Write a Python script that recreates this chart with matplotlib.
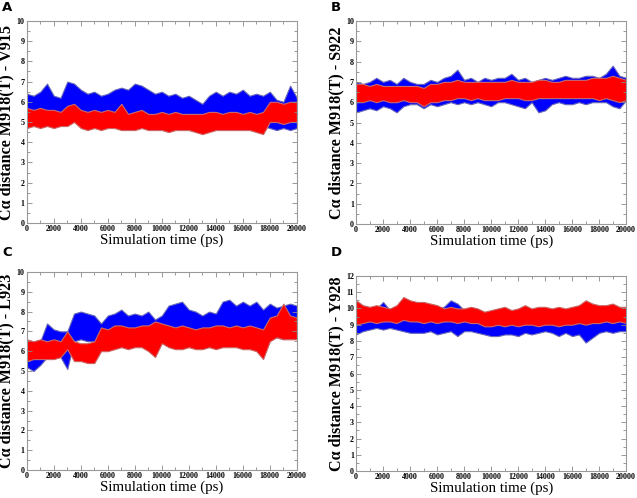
import numpy as np
import matplotlib
matplotlib.use("Agg")
import matplotlib.pyplot as plt
from matplotlib.ticker import MultipleLocator

# time axis, one envelope value every 500 ps
time_ps = list(range(0, 20001, 500))

# panel A: M918(T) - V915
a_blue_low = [5.0, 5.1, 5.0, 5.1, 5.0, 5.1, 5.0, 5.2, 5.1, 5.0, 5.1, 5.0, 5.1, 5.0, 5.1, 5.0, 5.1, 5.0,
              5.0, 5.1, 5.0, 5.0, 5.1, 5.0, 4.9, 4.8, 4.5, 4.8, 5.0, 4.9, 5.0, 5.0, 5.0, 4.9, 5.0, 4.8,
              4.7, 4.6, 4.7, 4.6, 4.7]
a_blue_high = [6.4, 6.3, 6.5, 6.9, 6.3, 6.2, 7.0, 6.9, 6.6, 6.4, 6.5, 6.3, 6.4, 6.6, 6.7, 6.6, 6.9, 6.8,
               6.6, 6.4, 6.5, 6.3, 6.4, 6.2, 6.3, 6.1, 5.9, 6.3, 6.5, 6.3, 6.5, 6.4, 6.6, 6.3, 6.4, 6.3,
               6.5, 6.1, 6.0, 6.8, 6.2]
a_red_low = [4.7, 4.8, 4.7, 4.8, 4.7, 4.8, 4.8, 5.0, 4.7, 4.6, 4.7, 4.6, 4.7, 4.7, 4.6, 4.6, 4.6, 4.7,
             4.6, 4.6, 4.6, 4.5, 4.6, 4.6, 4.6, 4.5, 4.4, 4.5, 4.6, 4.6, 4.6, 4.6, 4.6, 4.6, 4.5, 4.4,
             5.0, 5.0, 4.9, 5.0, 5.0]
a_red_high = [5.7, 5.6, 5.7, 5.6, 5.6, 5.5, 5.8, 5.9, 5.6, 5.5, 5.6, 5.5, 5.6, 5.5, 5.9, 5.4, 5.5, 5.6,
              5.4, 5.4, 5.5, 5.4, 5.5, 5.4, 5.4, 5.4, 5.4, 5.5, 5.5, 5.4, 5.5, 5.5, 5.4, 5.5, 5.4, 5.5,
              6.0, 6.0, 5.9, 6.0, 6.0]

# panel B: M918(T) - S922
b_blue_low = [5.5, 5.6, 5.7, 5.6, 5.8, 5.7, 5.5, 5.8, 5.9, 5.9, 5.7, 5.9, 5.8, 5.9, 6.0, 5.9, 6.0, 5.9,
              6.0, 5.9, 5.8, 6.0, 6.0, 5.9, 5.8, 5.7, 6.0, 5.5, 5.6, 5.9, 6.0, 5.9, 5.9, 6.0, 5.9, 6.0,
              6.0, 6.0, 5.8, 5.7, 6.1]
b_blue_high = [7.0, 6.9, 7.0, 7.2, 7.0, 7.1, 6.9, 7.2, 7.0, 6.9, 6.9, 7.1, 7.0, 7.2, 7.3, 7.6, 7.1, 7.2,
               7.0, 7.2, 7.1, 7.2, 7.2, 7.4, 7.1, 7.2, 7.0, 7.1, 7.2, 7.1, 7.2, 7.3, 7.2, 7.2, 7.3, 7.3,
               7.2, 7.4, 7.8, 7.3, 7.2]
b_red_low = [6.0, 6.0, 6.1, 6.0, 6.1, 6.0, 6.0, 6.1, 6.0, 6.0, 5.8, 6.0, 6.0, 6.1, 6.1, 6.2, 6.2, 6.1,
             6.2, 6.1, 6.1, 6.1, 6.2, 6.2, 6.2, 6.1, 6.1, 6.2, 6.2, 6.2, 6.2, 6.2, 6.2, 6.2, 6.2, 6.2,
             6.1, 6.2, 6.1, 6.0, 6.1]
b_red_high = [6.9, 6.9, 6.8, 6.9, 6.8, 6.8, 6.8, 6.8, 6.8, 6.8, 6.7, 6.9, 6.9, 7.0, 7.0, 7.1, 7.0, 7.0,
              7.0, 7.0, 7.0, 7.0, 7.0, 7.1, 7.0, 7.0, 7.0, 7.1, 7.1, 7.0, 7.0, 7.1, 7.1, 7.1, 7.1, 7.2,
              7.2, 7.2, 7.3, 7.2, 7.1]

# panel C: M918(T) - L923
c_blue_low = [5.2, 5.0, 5.3, 5.7, 5.8, 5.7, 5.1, 6.5, 6.6, 6.5, 6.5, 6.3, 6.4, 6.4, 6.5, 6.5, 6.5, 6.6,
              6.4, 6.5, 6.8, 7.0, 7.1, 7.0, 6.8, 6.7, 6.6, 6.6, 6.6, 6.8, 6.9, 6.8, 6.8, 6.7, 6.8, 6.6,
              6.7, 6.7, 6.6, 6.7, 6.7]
c_blue_high = [6.4, 6.3, 6.5, 7.4, 7.1, 7.0, 7.0, 7.9, 8.0, 7.9, 7.8, 7.4, 7.8, 7.9, 8.1, 7.8, 7.9, 7.8,
               8.0, 7.6, 7.8, 8.3, 8.4, 8.5, 8.1, 8.0, 7.8, 8.0, 7.9, 8.5, 8.6, 8.3, 8.5, 8.3, 8.5, 8.1,
               8.4, 8.2, 8.3, 8.4, 8.3]
c_red_low = [5.5, 5.6, 5.6, 5.6, 5.6, 5.7, 6.1, 5.5, 5.5, 5.4, 5.4, 6.0, 6.0, 6.1, 6.2, 6.1, 6.2, 6.2,
             6.0, 5.7, 6.4, 6.2, 6.1, 6.1, 6.2, 6.1, 6.1, 6.2, 6.1, 6.2, 6.2, 6.2, 6.1, 6.1, 6.0, 5.6,
             6.5, 6.7, 6.6, 6.6, 6.6]
c_red_high = [6.6, 6.5, 6.6, 6.5, 6.6, 6.5, 7.0, 6.5, 6.4, 6.4, 6.5, 7.2, 7.1, 7.3, 7.3, 7.2, 7.2, 7.3,
              7.3, 7.5, 7.4, 7.3, 7.2, 7.3, 7.2, 7.1, 7.2, 7.2, 7.3, 7.3, 7.2, 7.3, 7.2, 7.3, 7.2, 7.1,
              7.7, 7.8, 8.4, 7.8, 7.7]

# panel D: M918(T) - Y928
d_blue_low = [8.4, 8.6, 8.7, 8.8, 8.7, 8.8, 8.7, 8.6, 8.5, 8.5, 8.5, 8.6, 8.4, 8.5, 8.6, 8.3, 8.6, 8.6,
              8.5, 8.4, 8.3, 8.3, 8.4, 8.4, 8.3, 8.5, 8.4, 8.5, 8.6, 8.5, 8.3, 8.5, 8.3, 8.4, 7.9, 8.2,
              8.5, 8.6, 8.5, 8.6, 8.6]
d_blue_high = [9.8, 9.9, 9.8, 10.0, 10.4, 9.9, 9.8, 9.9, 9.8, 9.9, 9.8, 9.9, 10.0, 10.1, 10.5, 10.3, 9.9, 9.8,
               9.7, 9.6, 9.6, 9.7, 9.6, 9.7, 9.6, 9.7, 9.6, 9.7, 9.6, 9.7, 9.6, 9.7, 9.6, 9.7, 9.6, 9.7,
               9.6, 9.7, 9.6, 9.7, 9.6]
d_red_low = [9.0, 9.1, 9.2, 9.1, 9.2, 9.2, 9.1, 9.3, 9.2, 9.2, 9.1, 9.2, 9.1, 9.2, 9.2, 9.1, 9.2, 9.1,
             9.1, 8.9, 8.9, 9.0, 8.9, 9.0, 8.9, 9.0, 9.0, 8.9, 9.0, 9.0, 8.9, 9.0, 9.0, 9.1, 9.0, 9.1,
             9.1, 9.2, 9.1, 9.2, 9.1]
d_red_high = [10.5, 10.2, 10.1, 10.2, 10.1, 10.0, 10.2, 10.7, 10.5, 10.4, 10.4, 10.3, 10.2, 10.0, 10.1, 10.0, 10.0, 10.1,
              10.0, 9.8, 9.9, 10.0, 10.1, 9.9, 10.0, 10.2, 10.0, 10.1, 10.1, 10.0, 10.1, 10.0, 10.1, 10.2, 10.5, 10.3,
              10.2, 10.2, 10.3, 10.1, 10.1]

panel_letters = ["A", "B", "C", "D"]
residues = ["V915", "S922", "L923", "Y928"]
y_tops = [10, 10, 10, 12]

serif = ["Liberation Serif", "DejaVu Serif"]


def draw_panel(ax, blue_low, blue_high, red_low, red_high, residue, ytop):
    # blue trace first, red trace drawn on top of it
    ax.fill_between(time_ps, blue_low, blue_high, color="#0000ff",
                    edgecolor="#6a6ab8", linewidth=0.8)
    ax.fill_between(time_ps, red_low, red_high, color="#ff0000",
                    edgecolor="#c86a6a", linewidth=0.8)
    ax.set_xlim(0, 20000)
    ax.set_ylim(0, ytop)
    ax.xaxis.set_major_locator(MultipleLocator(2000))
    ax.xaxis.set_minor_locator(MultipleLocator(1000))
    ax.yaxis.set_major_locator(MultipleLocator(1))
    ax.yaxis.set_minor_locator(MultipleLocator(0.5))
    ax.tick_params(which="both", direction="in", top=True, right=True, color="#888888", pad=1.5)
    ax.tick_params(which="major", length=3.5, width=0.6)
    ax.tick_params(which="minor", length=2, width=0.6)
    for lab in ax.get_xticklabels() + ax.get_yticklabels():
        lab.set_fontfamily(serif)
        lab.set_fontweight("bold")
        lab.set_fontsize(5.8)
    for sp in ax.spines.values():
        sp.set_color("#999999")
        sp.set_linewidth(0.8)
    ax.set_xlabel("Simulation time (ps)", family=serif, fontsize=10.8, labelpad=0)
    ax.set_ylabel("C\u03b1 distance M918(T) - " + residue, family=serif,
                  fontsize=11.6, fontweight="bold", labelpad=1.5)


fig = plt.figure(figsize=(6.37, 4.98), dpi=100)
boxes = [[0.042, 0.552, 0.424, 0.406],
         [0.559, 0.550, 0.424, 0.408],
         [0.042, 0.056, 0.424, 0.398],
         [0.559, 0.054, 0.424, 0.392]]
data = [(a_blue_low, a_blue_high, a_red_low, a_red_high),
        (b_blue_low, b_blue_high, b_red_low, b_red_high),
        (c_blue_low, c_blue_high, c_red_low, c_red_high),
        (d_blue_low, d_blue_high, d_red_low, d_red_high)]
letter_pos = [(0.003, 0.998), (0.52, 0.998), (0.003, 0.506), (0.52, 0.506)]

for i in range(4):
    ax = fig.add_axes(boxes[i])
    bl, bh, rl, rh = data[i]
    draw_panel(ax, bl, bh, rl, rh, residues[i], y_tops[i])
    fig.text(letter_pos[i][0], letter_pos[i][1], panel_letters[i], fontsize=9.5,
             fontweight="bold", family="DejaVu Sans", va="top", ha="left")

fig.savefig("out.png", dpi=100)
